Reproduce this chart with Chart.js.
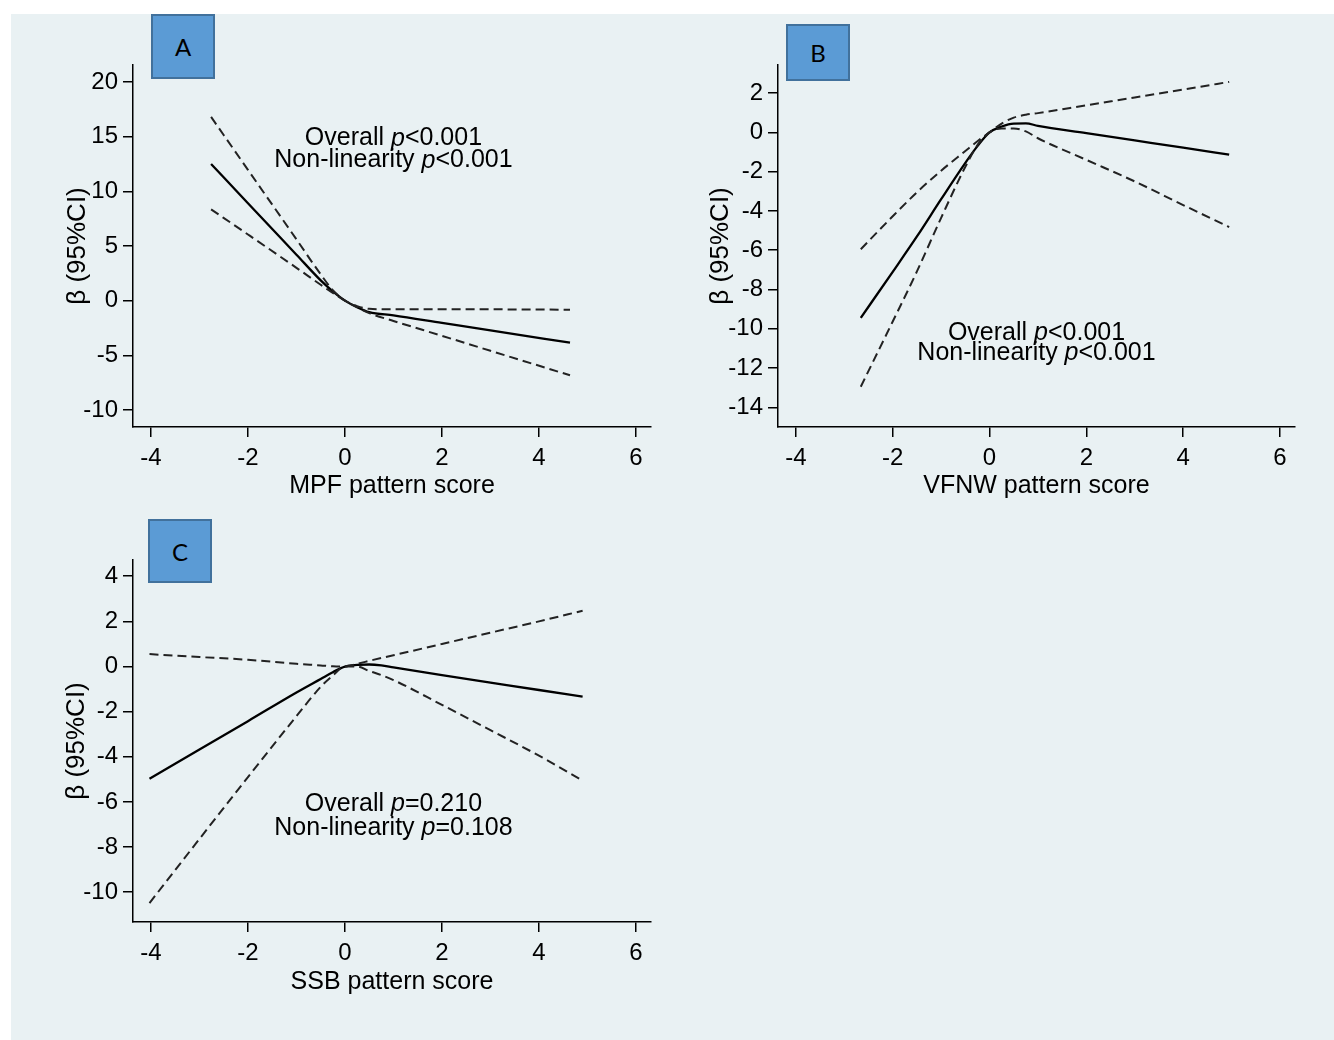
<!DOCTYPE html>
<html>
<head>
<meta charset="utf-8">
<script src="https://cdn.jsdelivr.net/npm/chart.js@4.4.0/dist/chart.umd.min.js"></script>
<style>
  body { margin: 0; width: 1334px; height: 1040px; background: #fff; position: relative; overflow: hidden; }
  #bg { position: absolute; left: 11px; top: 14px; right: 0; bottom: 0; background: #e9f1f3; }
  canvas { position: absolute; }
  .box { position: absolute; box-sizing: border-box; background: #5b9bd5; border: 2px solid #41719c;
         font: 24px Lato, "Open Sans", sans-serif; color: #000; display: flex; align-items: center; justify-content: center; z-index: 2; }
</style>
</head>
<body>
<div id="bg"></div>
<canvas id="chartA" width="649" height="506" style="left:11px;top:14px"></canvas>
<canvas id="chartB" width="674" height="506" style="left:660px;top:14px"></canvas>
<canvas id="chartC" width="649" height="530" style="left:11px;top:510px"></canvas>
<div class="box" style="left:151px;top:14px;width:64px;height:65px">A</div>
<div class="box" style="left:786px;top:24px;width:64px;height:57px">B</div>
<div class="box" style="left:148px;top:519px;width:64px;height:64px">C</div>
<script>
const xTicks = [-4, -2, 0, 2, 4, 6];

// A: MPF pattern
const mpfScore = [-2.76, -2.0, -1.0, -0.5, -0.25, 0, 0.25, 0.5, 1.0, 2.0, 3.0, 4.64];
const mpfBeta  = [12.5, 8.9, 4.2, 1.85, 0.85, 0, -0.6, -1.05, -1.35, -2.04, -2.73, -3.85];
const mpfUpper = [16.8, 11.96, 5.6, 2.4, 0.95, 0, -0.5, -0.75, -0.8, -0.8, -0.8, -0.83];
const mpfLower = [8.35, 6.05, 3.0, 1.45, 0.7, 0, -0.6, -1.15, -1.86, -3.22, -4.59, -6.83];
const mpfYTicks = [-10, -5, 0, 5, 10, 15, 20];

// B: VFNW pattern
const vfnwScore = [-2.66, -2.0, -1.5, -1.0, -0.5, -0.25, 0, 0.25, 0.5, 0.75, 1.0, 2.0, 3.0, 4.0, 4.95];
const vfnwBeta  = [-9.44, -7.1, -5.3, -3.4, -1.55, -0.7, 0, 0.3, 0.45, 0.46, 0.33, -0.04, -0.41, -0.78, -1.13];
const vfnwUpper = [-5.95, -4.27, -3.05, -1.95, -0.95, -0.45, 0, 0.45, 0.75, 0.9, 0.98, 1.38, 1.78, 2.18, 2.57];
const vfnwLower = [-12.95, -9.63, -7.08, -4.35, -1.75, -0.65, 0, 0.2, 0.2, 0.05, -0.3, -1.4, -2.5, -3.7, -4.82];
const vfnwYTicks = [-14, -12, -10, -8, -6, -4, -2, 0, 2];

// C: SSB pattern
const ssbScore = [-4.03, -3.0, -2.0, -1.0, -0.5, -0.25, 0, 0.25, 0.5, 0.75, 1.0, 2.0, 3.0, 4.0, 4.9];
const ssbBeta  = [-4.97, -3.68, -2.42, -1.15, -0.55, -0.25, 0, 0.07, 0.09, 0.05, -0.04, -0.38, -0.71, -1.04, -1.33];
const ssbUpper = [0.55, 0.42, 0.3, 0.12, 0.05, 0.01, 0, 0.12, 0.25, 0.38, 0.5, 1.0, 1.5, 2.0, 2.47];
const ssbLower = [-10.48, -7.64, -4.9, -2.2, -0.9, -0.4, 0, 0.0, -0.2, -0.38, -0.6, -1.7, -2.82, -3.95, -5.05];
const ssbYTicks = [-10, -8, -6, -4, -2, 0, 2, 4];

const FONT = 'Liberation Sans';

function pts(xs, ys) {
    return xs.map((x, i) => ({ x: x, y: ys[i] }));
}

// p-value text, with an italic "p"
const notePlugin = {
    id: 'pnote',
    afterDatasetsDraw(chart, args, opts) {
        const ctx = chart.ctx;
        const cx = chart.scales.x.getPixelForValue(opts.x);
        const reg = '25px "' + FONT + '"';
        const ital = 'italic 25px "' + FONT + '"';
        ctx.save();
        ctx.fillStyle = '#000';
        ctx.textBaseline = 'middle';
        ctx.textAlign = 'left';
        opts.lines.forEach(l => {
            const y = chart.scales.y.getPixelForValue(l.y);
            ctx.font = reg;
            const w1 = ctx.measureText(l.pre).width;
            const w3 = ctx.measureText(l.post).width;
            ctx.font = ital;
            const w2 = ctx.measureText('p').width;
            const x0 = cx - (w1 + w2 + w3) / 2;
            ctx.font = reg;
            ctx.fillText(l.pre, x0, y);
            ctx.font = ital;
            ctx.fillText('p', x0 + w1, y);
            ctx.font = reg;
            ctx.fillText(l.post, x0 + w1 + w2, y);
        });
        ctx.restore();
    }
};

function axisStyle() {
    return {
        grid: { display: true, drawOnChartArea: false, drawTicks: true, tickLength: 10, color: '#000', lineWidth: 1.5 },
        border: { display: true, color: '#000', width: 1.5 }
    };
}

function makePanel(id, c) {
    const line = { showLine: true, pointRadius: 0, fill: false, cubicInterpolationMode: 'monotone' };
    new Chart(document.getElementById(id), {
        type: 'scatter',
        data: {
            datasets: [
                Object.assign({ data: pts(c.x, c.upper), borderColor: '#222', borderWidth: 2, borderDash: [9, 5] }, line),
                Object.assign({ data: pts(c.x, c.lower), borderColor: '#222', borderWidth: 2, borderDash: [9, 5] }, line),
                Object.assign({ data: pts(c.x, c.beta), borderColor: '#000', borderWidth: 2.3 }, line)
            ]
        },
        options: {
            responsive: false,
            animation: false,
            layout: { padding: { top: c.padTop, right: c.padRight, left: 0, bottom: 0 } },
            plugins: {
                legend: { display: false },
                tooltip: { enabled: false },
                pnote: c.note
            },
            scales: {
                x: Object.assign({
                    type: 'linear', min: -4.37, max: 6.31,
                    afterBuildTicks: s => { s.ticks = xTicks.map(v => ({ value: v })); },
                    afterFit: s => { s.height = c.xHeight; },
                    ticks: { color: '#000', padding: 7, font: { family: FONT, size: 24 }, callback: v => String(v) },
                    title: { display: true, text: c.xTitle, color: '#000', font: { family: FONT, size: 25 }, padding: { top: 0, bottom: c.xTitlePad } }
                }, axisStyle()),
                y: Object.assign({
                    type: 'linear', min: c.yMin, max: c.yMax,
                    afterBuildTicks: s => { s.ticks = c.yTicks.map(v => ({ value: v })); },
                    afterFit: s => { s.width = c.yWidth; },
                    ticks: { color: '#000', padding: 5, font: { family: FONT, size: 24 }, callback: v => String(v) },
                    title: { display: true, text: 'β (95%CI)', color: '#000', font: { family: FONT, size: 26 }, padding: { top: c.yTitlePad, bottom: 0 } }
                }, axisStyle())
            }
        },
        plugins: [notePlugin]
    });
}

makePanel('chartA', {
    x: mpfScore, beta: mpfBeta, upper: mpfUpper, lower: mpfLower,
    yMin: -11.56, yMax: 21.55, yTicks: mpfYTicks, xTitle: 'MPF pattern score',
    padTop: 51, padRight: 9, yWidth: 122, xHeight: 93, xTitlePad: 19, yTitlePad: 51,
    note: { x: 1.0, lines: [
        { y: 14.82, pre: 'Overall ', post: '<0.001' },
        { y: 12.81, pre: 'Non-linearity ', post: '<0.001' }
    ] }
});

makePanel('chartB', {
    x: vfnwScore, beta: vfnwBeta, upper: vfnwUpper, lower: vfnwLower,
    yMin: -15.0, yMax: 3.43, yTicks: vfnwYTicks, xTitle: 'VFNW pattern score',
    padTop: 51, padRight: 39, yWidth: 118, xHeight: 93, xTitlePad: 19, yTitlePad: 45,
    note: { x: 0.97, lines: [
        { y: -10.24, pre: 'Overall ', post: '<0.001' },
        { y: -11.26, pre: 'Non-linearity ', post: '<0.001' }
    ] }
});

makePanel('chartC', {
    x: ssbScore, beta: ssbBeta, upper: ssbUpper, lower: ssbLower,
    yMin: -11.32, yMax: 4.72, yTicks: ssbYTicks, xTitle: 'SSB pattern score',
    padTop: 50, padRight: 9, yWidth: 122, xHeight: 118, xTitlePad: 43, yTitlePad: 50,
    note: { x: 1.0, lines: [
        { y: -6.11, pre: 'Overall ', post: '=0.210' },
        { y: -7.17, pre: 'Non-linearity ', post: '=0.108' }
    ] }
});
</script>
</body>
</html>
